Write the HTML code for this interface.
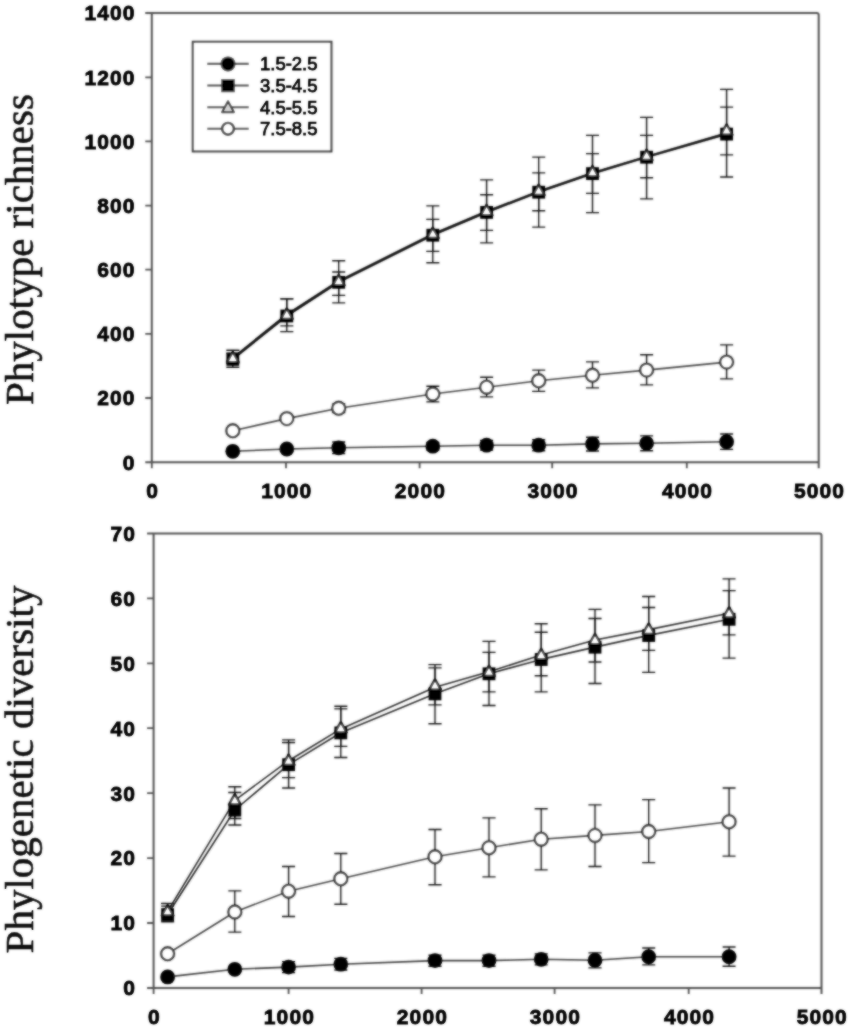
<!DOCTYPE html>
<html><head><meta charset="utf-8"><title>Rarefaction curves</title>
<style>html,body{margin:0;padding:0;background:#fff}svg{display:block}.ax{font-family:"Liberation Sans",sans-serif;font-weight:bold;font-size:21px;fill:#000;stroke:#000;stroke-width:0.8px;letter-spacing:1.1px}.lg{font-family:"Liberation Sans",sans-serif;font-size:17.5px;fill:#000;stroke:#000;stroke-width:0.75px}.yt{font-family:"Liberation Serif",serif;font-size:41px;fill:#0c0c0c;stroke:#0c0c0c;stroke-width:0.55px}</style></head><body>
<svg width="850" height="1034" viewBox="0 0 850 1034">
<defs><filter id="b" x="-5%" y="-5%" width="110%" height="110%"><feGaussianBlur in="SourceGraphic" stdDeviation="0.85" result="g"/><feComposite in="SourceGraphic" in2="g" operator="arithmetic" k1="0" k2="0.3" k3="0.7" k4="0"/></filter><filter id="bt" x="-5%" y="-5%" width="110%" height="110%"><feGaussianBlur in="SourceGraphic" stdDeviation="0.85" result="g"/><feComposite in="SourceGraphic" in2="g" operator="arithmetic" k1="0" k2="0.45" k3="0.55" k4="0"/></filter></defs>
<rect width="850" height="1034" fill="#fff"/>
<g filter="url(#b)">
<path d="M145.3 13.1H816.7Q818.7 13.1 818.7 15.1V468.2" fill="none" stroke="#505050" stroke-width="2"/>
<path d="M151.8 13.1V462.2M145.3 462.2H818.7" fill="none" stroke="#505050" stroke-width="2"/>
<path d="M145.3 398H151.8M145.3 333.9H151.8M145.3 269.7H151.8M145.3 205.6H151.8M145.3 141.4H151.8M145.3 77.3H151.8M151.8 462.2V468.2M286 462.2V468.2M419.6 462.2V468.2M552.2 462.2V468.2M686.8 462.2V468.2" fill="none" stroke="#505050" stroke-width="1.8"/>
<path d="M232.8 451.3 L286.8 449 L338.7 447.8 L432.8 446.2 L486.6 445.2 L538.7 445.2 L592.5 443.9 L646.6 443.3 L726.6 441.7" fill="none" stroke="#3a3a3a" stroke-width="1.6" stroke-linejoin="round"/>
<path d="M232.8 430.8 L286.8 418.6 L338.7 408.3 L432.8 394 L486.6 387.2 L538.7 380.8 L592.5 375.3 L646.6 370.1 L726.6 362.1" fill="none" stroke="#444" stroke-width="1.6" stroke-linejoin="round"/>
<path d="M232.8 359.2 L286.8 315.9 L338.7 282.2 L432.8 235.1 L486.6 212.3 L538.7 192.1 L592.5 173.5 L646.6 157.1 L726.6 134" fill="none" stroke="#0a0a0a" stroke-width="1.9" stroke-linejoin="round"/>
<path d="M232.8 357.9 L286.8 314.6 L338.7 281 L432.8 234.1 L486.6 211.5 L538.7 191.5 L592.5 173 L646.6 156.7 L726.6 133.1" fill="none" stroke="#0a0a0a" stroke-width="1.9" stroke-linejoin="round"/>
<path d="M338.7 442V453.5M332.2 442H345.2M332.2 453.5H345.2M432.8 442.3V450M426.3 442.3H439.3M426.3 450H439.3M486.6 440.4V450M480.1 440.4H493.1M480.1 450H493.1M538.7 439.7V450.7M532.2 439.7H545.2M532.2 450.7H545.2M592.5 437.2V451M586 437.2H599M586 451H599M646.6 435.9V450.7M640.1 435.9H653.1M640.1 450.7H653.1M726.6 434V449.4M720.1 434H733.1M720.1 449.4H733.1" fill="none" stroke="#141414" stroke-width="1.35"/>
<path d="M338.7 403.8V412.5M332.2 403.8H345.2M332.2 412.5H345.2M432.8 386.2V401.9M426.3 386.2H439.3M426.3 401.9H439.3M486.6 377.2V396.8M480.1 377.2H493.1M480.1 396.8H493.1M538.7 370.1V391.3M532.2 370.1H545.2M532.2 391.3H545.2M592.5 361.8V387.8M586 361.8H599M586 387.8H599M646.6 354.7V384.9M640.1 354.7H653.1M640.1 384.9H653.1M726.6 344.8V378.8M720.1 344.8H733.1M720.1 378.8H733.1" fill="none" stroke="#141414" stroke-width="1.35"/>
<path d="M232.8 350.2V367.2M226.3 350.2H239.3M226.3 367.2H239.3M286.8 298.9V331.6M280.3 298.9H293.3M280.3 331.6H293.3M338.7 260.7V302.8M332.2 260.7H345.2M332.2 302.8H345.2M432.8 205.9V262.7M426.3 205.9H439.3M426.3 262.7H439.3M486.6 179.9V242.8M480.1 179.9H493.1M480.1 242.8H493.1M538.7 157.1V227.1M532.2 157.1H545.2M532.2 227.1H545.2M592.5 135.3V212.6M586 135.3H599M586 212.6H599M646.6 117.4V198.8M640.1 117.4H653.1M640.1 198.8H653.1M726.6 89.4V177M720.1 89.4H733.1M720.1 177H733.1" fill="none" stroke="#141414" stroke-width="1.35"/>
<path d="M232.8 353.1V363.4M226.3 353.1H239.3M226.3 363.4H239.3M286.8 298.9V325.9M280.3 298.9H293.3M280.3 325.9H293.3M338.7 272V295.4M332.2 272H345.2M332.2 295.4H345.2M432.8 219.4V251.4M426.3 219.4H439.3M426.3 251.4H439.3M486.6 194.7V230.3M480.1 194.7H493.1M480.1 230.3H493.1M538.7 172.9V210.7M532.2 172.9H545.2M532.2 210.7H545.2M592.5 153.6V193.4M586 153.6H599M586 193.4H599M646.6 135.3V177.7M640.1 135.3H653.1M640.1 177.7H653.1M726.6 107.1V154.9M720.1 107.1H733.1M720.1 154.9H733.1" fill="none" stroke="#141414" stroke-width="1.35"/>
<circle cx="232.8" cy="451.3" r="7.4" fill="#000"/>
<circle cx="286.8" cy="449" r="7.4" fill="#000"/>
<circle cx="338.7" cy="447.8" r="7.4" fill="#000"/>
<circle cx="432.8" cy="446.2" r="7.4" fill="#000"/>
<circle cx="486.6" cy="445.2" r="7.4" fill="#000"/>
<circle cx="538.7" cy="445.2" r="7.4" fill="#000"/>
<circle cx="592.5" cy="443.9" r="7.4" fill="#000"/>
<circle cx="646.6" cy="443.3" r="7.4" fill="#000"/>
<circle cx="726.6" cy="441.7" r="7.4" fill="#000"/>
<circle cx="232.8" cy="430.8" r="6.4" fill="#fff" stroke="#111" stroke-width="2.1"/>
<circle cx="286.8" cy="418.6" r="6.4" fill="#fff" stroke="#111" stroke-width="2.1"/>
<circle cx="338.7" cy="408.3" r="6.4" fill="#fff" stroke="#111" stroke-width="2.1"/>
<circle cx="432.8" cy="394" r="6.4" fill="#fff" stroke="#111" stroke-width="2.1"/>
<circle cx="486.6" cy="387.2" r="6.4" fill="#fff" stroke="#111" stroke-width="2.1"/>
<circle cx="538.7" cy="380.8" r="6.4" fill="#fff" stroke="#111" stroke-width="2.1"/>
<circle cx="592.5" cy="375.3" r="6.4" fill="#fff" stroke="#111" stroke-width="2.1"/>
<circle cx="646.6" cy="370.1" r="6.4" fill="#fff" stroke="#111" stroke-width="2.1"/>
<circle cx="726.6" cy="362.1" r="6.4" fill="#fff" stroke="#111" stroke-width="2.1"/>
<rect x="226.4" y="352.9" width="12.8" height="12.8" fill="#000"/>
<rect x="280.4" y="309.6" width="12.8" height="12.8" fill="#000"/>
<rect x="332.3" y="275.9" width="12.8" height="12.8" fill="#000"/>
<rect x="426.4" y="228.8" width="12.8" height="12.8" fill="#000"/>
<rect x="480.2" y="206" width="12.8" height="12.8" fill="#000"/>
<rect x="532.3" y="185.8" width="12.8" height="12.8" fill="#000"/>
<rect x="586.1" y="167.2" width="12.8" height="12.8" fill="#000"/>
<rect x="640.2" y="150.8" width="12.8" height="12.8" fill="#000"/>
<rect x="720.2" y="127.7" width="12.8" height="12.8" fill="#000"/>
<path d="M232.8 351.7L238.6 362.1H227Z" fill="#fff" stroke="#0a0a0a" stroke-width="2.3" stroke-linejoin="round"/>
<path d="M286.8 308.4L292.6 318.8H281Z" fill="#fff" stroke="#0a0a0a" stroke-width="2.3" stroke-linejoin="round"/>
<path d="M338.7 274.8L344.5 285.2H332.9Z" fill="#fff" stroke="#0a0a0a" stroke-width="2.3" stroke-linejoin="round"/>
<path d="M432.8 227.6L438.6 238H427Z" fill="#fff" stroke="#0a0a0a" stroke-width="2.3" stroke-linejoin="round"/>
<path d="M486.6 204.8L492.4 215.2H480.8Z" fill="#fff" stroke="#0a0a0a" stroke-width="2.3" stroke-linejoin="round"/>
<path d="M538.7 184.6L544.5 195H532.9Z" fill="#fff" stroke="#0a0a0a" stroke-width="2.3" stroke-linejoin="round"/>
<path d="M592.5 166L598.3 176.4H586.7Z" fill="#fff" stroke="#0a0a0a" stroke-width="2.3" stroke-linejoin="round"/>
<path d="M646.6 149.6L652.4 160H640.8Z" fill="#fff" stroke="#0a0a0a" stroke-width="2.3" stroke-linejoin="round"/>
<path d="M726.6 124.3L732.4 134.7H720.8Z" fill="#fff" stroke="#0a0a0a" stroke-width="2.3" stroke-linejoin="round"/>
<rect x="192.8" y="41.8" width="138.6" height="109.6" fill="#fff" stroke="#3c3c3c" stroke-width="2.1"/>
<path d="M207.3 63.9H248.7" stroke="#333" stroke-width="2.1"/>
<circle cx="228" cy="63.9" r="7.5" fill="#000"/>
<path d="M207.3 85.5H248.7" stroke="#333" stroke-width="2.1"/>
<rect x="221.2" y="79" width="13.6" height="13.2" fill="#000"/>
<path d="M207.3 107.2H248.7" stroke="#333" stroke-width="2.1"/>
<path d="M228 101.2L234 112.2H222Z" fill="#d4d4d4" stroke="#1c1c1c" stroke-width="2" stroke-linejoin="round"/>
<path d="M207.3 128.8H248.7" stroke="#333" stroke-width="2.1"/>
<circle cx="228" cy="128.8" r="5.9" fill="#fff" stroke="#1c1c1c" stroke-width="2.4"/>
<path d="M147.1 533.5H819.5Q821.5 533.5 821.5 535.5V993.9" fill="none" stroke="#505050" stroke-width="2"/>
<path d="M153.6 533.5V987.9M147.1 987.9H821.5" fill="none" stroke="#505050" stroke-width="2"/>
<path d="M147.1 923H153.6M147.1 858.1H153.6M147.1 793.2H153.6M147.1 728.2H153.6M147.1 663.3H153.6M147.1 598.4H153.6M153.6 987.9V993.9M288.6 987.9V993.9M421.6 987.9V993.9M554.6 987.9V993.9M688.7 987.9V993.9" fill="none" stroke="#505050" stroke-width="1.8"/>
<path d="M167.6 976.9 L234.8 969.3 L288.6 967.1 L340.8 964.2 L435 960.6 L489 960.6 L541.2 959.3 L595 960.2 L648.7 956.7 L729.1 956.7" fill="none" stroke="#3a3a3a" stroke-width="1.6" stroke-linejoin="round"/>
<path d="M167.6 953.8 L234.8 912 L288.6 891.2 L340.8 878.8 L435 856.8 L489 847.7 L541.2 839.2 L595 835.4 L648.7 831.5 L729.1 821.7" fill="none" stroke="#444" stroke-width="1.6" stroke-linejoin="round"/>
<path d="M167.6 914.5 L234.8 810 L288.6 764.6 L340.8 732.8 L435 693.8 L489 673.7 L541.2 659.4 L595 647.1 L648.7 635.4 L729.1 619.2" fill="none" stroke="#2a2a2a" stroke-width="1.6" stroke-linejoin="round"/>
<path d="M167.6 911.3 L234.8 800.3 L288.6 760.7 L340.8 728.9 L435 687.3 L489 671.8 L541.2 654.9 L595 640 L648.7 629.6 L729.1 613.3" fill="none" stroke="#2a2a2a" stroke-width="1.6" stroke-linejoin="round"/>
<path d="M288.6 961.6V972.6M282.1 961.6H295.1M282.1 972.6H295.1M340.8 958.4V970M334.3 958.4H347.3M334.3 970H347.3M435 955.1V966.2M428.5 955.1H441.5M428.5 966.2H441.5M489 955.1V966.2M482.5 955.1H495.5M482.5 966.2H495.5M541.2 953.8V964.9M534.7 953.8H547.7M534.7 964.9H547.7M595 952.8V967.8M588.5 952.8H601.5M588.5 967.8H601.5M648.7 948V964.9M642.2 948H655.2M642.2 964.9H655.2M729.1 947V966.2M722.6 947H735.6M722.6 966.2H735.6" fill="none" stroke="#141414" stroke-width="1.35"/>
<path d="M234.8 890.8V932.1M228.3 890.8H241.3M228.3 932.1H241.3M288.6 866.5V916.5M282.1 866.5H295.1M282.1 916.5H295.1M340.8 853.5V904.2M334.3 853.5H347.3M334.3 904.2H347.3M435 829.5V884.7M428.5 829.5H441.5M428.5 884.7H441.5M489 817.8V876.9M482.5 817.8H495.5M482.5 876.9H495.5M541.2 808.7V869.8M534.7 808.7H547.7M534.7 869.8H547.7M595 804.8V866.5M588.5 804.8H601.5M588.5 866.5H601.5M648.7 799.6V862.6M642.2 799.6H655.2M642.2 862.6H655.2M729.1 788V856.1M722.6 788H735.6M722.6 856.1H735.6" fill="none" stroke="#141414" stroke-width="1.35"/>
<path d="M167.6 906.1V921.7M161.1 906.1H174.1M161.1 921.7H174.1M234.8 786.7V825M228.3 786.7H241.3M228.3 825H241.3M288.6 739.9V788M282.1 739.9H295.1M282.1 788H295.1M340.8 706.2V757.5M334.3 706.2H347.3M334.3 757.5H347.3M435 664.6V723.7M428.5 664.6H441.5M428.5 723.7H441.5M489 641.3V705.5M482.5 641.3H495.5M482.5 705.5H495.5M541.2 623.7V691.9M534.7 623.7H547.7M534.7 691.9H547.7M595 609.4V683.5M588.5 609.4H601.5M588.5 683.5H601.5M648.7 596.5V672.4M642.2 596.5H655.2M642.2 672.4H655.2M729.1 578.9V658.1M722.6 578.9H735.6M722.6 658.1H735.6" fill="none" stroke="#141414" stroke-width="1.35"/>
<path d="M167.6 903.5V917.8M161.1 903.5H174.1M161.1 917.8H174.1M234.8 792.5V818.5M228.3 792.5H241.3M228.3 818.5H241.3M288.6 742.5V777.6M282.1 742.5H295.1M282.1 777.6H295.1M340.8 708.8V746.4M334.3 708.8H347.3M334.3 746.4H347.3M435 667.9V704.9M428.5 667.9H441.5M428.5 704.9H441.5M489 652.3V691.9M482.5 652.3H495.5M482.5 691.9H495.5M541.2 632.2V675.7M534.7 632.2H547.7M534.7 675.7H547.7M595 618.5V662M588.5 618.5H601.5M588.5 662H601.5M648.7 607.5V650.3M642.2 607.5H655.2M642.2 650.3H655.2M729.1 590.6V634.8M722.6 590.6H735.6M722.6 634.8H735.6" fill="none" stroke="#141414" stroke-width="1.35"/>
<circle cx="167.6" cy="976.9" r="7.4" fill="#000"/>
<circle cx="234.8" cy="969.3" r="7.4" fill="#000"/>
<circle cx="288.6" cy="967.1" r="7.4" fill="#000"/>
<circle cx="340.8" cy="964.2" r="7.4" fill="#000"/>
<circle cx="435" cy="960.6" r="7.4" fill="#000"/>
<circle cx="489" cy="960.6" r="7.4" fill="#000"/>
<circle cx="541.2" cy="959.3" r="7.4" fill="#000"/>
<circle cx="595" cy="960.2" r="7.4" fill="#000"/>
<circle cx="648.7" cy="956.7" r="7.4" fill="#000"/>
<circle cx="729.1" cy="956.7" r="7.4" fill="#000"/>
<circle cx="167.6" cy="953.8" r="6.4" fill="#fff" stroke="#111" stroke-width="2.1"/>
<circle cx="234.8" cy="912" r="6.4" fill="#fff" stroke="#111" stroke-width="2.1"/>
<circle cx="288.6" cy="891.2" r="6.4" fill="#fff" stroke="#111" stroke-width="2.1"/>
<circle cx="340.8" cy="878.8" r="6.4" fill="#fff" stroke="#111" stroke-width="2.1"/>
<circle cx="435" cy="856.8" r="6.4" fill="#fff" stroke="#111" stroke-width="2.1"/>
<circle cx="489" cy="847.7" r="6.4" fill="#fff" stroke="#111" stroke-width="2.1"/>
<circle cx="541.2" cy="839.2" r="6.4" fill="#fff" stroke="#111" stroke-width="2.1"/>
<circle cx="595" cy="835.4" r="6.4" fill="#fff" stroke="#111" stroke-width="2.1"/>
<circle cx="648.7" cy="831.5" r="6.4" fill="#fff" stroke="#111" stroke-width="2.1"/>
<circle cx="729.1" cy="821.7" r="6.4" fill="#fff" stroke="#111" stroke-width="2.1"/>
<rect x="161.2" y="908.2" width="12.8" height="12.8" fill="#000"/>
<rect x="228.4" y="803.7" width="12.8" height="12.8" fill="#000"/>
<rect x="282.2" y="758.3" width="12.8" height="12.8" fill="#000"/>
<rect x="334.4" y="726.5" width="12.8" height="12.8" fill="#000"/>
<rect x="428.6" y="687.5" width="12.8" height="12.8" fill="#000"/>
<rect x="482.6" y="667.4" width="12.8" height="12.8" fill="#000"/>
<rect x="534.8" y="653.1" width="12.8" height="12.8" fill="#000"/>
<rect x="588.6" y="640.8" width="12.8" height="12.8" fill="#000"/>
<rect x="642.3" y="629.1" width="12.8" height="12.8" fill="#000"/>
<rect x="722.7" y="612.9" width="12.8" height="12.8" fill="#000"/>
<path d="M167.6 905.1L173.4 915.5H161.8Z" fill="#fff" stroke="#0a0a0a" stroke-width="2.3" stroke-linejoin="round"/>
<path d="M234.8 794.1L240.6 804.5H229Z" fill="#fff" stroke="#0a0a0a" stroke-width="2.3" stroke-linejoin="round"/>
<path d="M288.6 754.5L294.4 764.9H282.8Z" fill="#fff" stroke="#0a0a0a" stroke-width="2.3" stroke-linejoin="round"/>
<path d="M340.8 722L346.6 732.4H335Z" fill="#fff" stroke="#0a0a0a" stroke-width="2.3" stroke-linejoin="round"/>
<path d="M435 679.2L440.8 689.6H429.2Z" fill="#fff" stroke="#0a0a0a" stroke-width="2.3" stroke-linejoin="round"/>
<path d="M489 665.6L494.8 676H483.2Z" fill="#fff" stroke="#0a0a0a" stroke-width="2.3" stroke-linejoin="round"/>
<path d="M541.2 648.7L547 659.1H535.4Z" fill="#fff" stroke="#0a0a0a" stroke-width="2.3" stroke-linejoin="round"/>
<path d="M595 633.8L600.8 644.2H589.2Z" fill="#fff" stroke="#0a0a0a" stroke-width="2.3" stroke-linejoin="round"/>
<path d="M648.7 623.4L654.5 633.8H642.9Z" fill="#fff" stroke="#0a0a0a" stroke-width="2.3" stroke-linejoin="round"/>
<path d="M729.1 607.1L734.9 617.5H723.3Z" fill="#fff" stroke="#0a0a0a" stroke-width="2.3" stroke-linejoin="round"/>
</g>
<g filter="url(#bt)">
<text class="ax" x="135.5" y="469.5" text-anchor="end">0</text>
<text class="ax" x="135.5" y="405.3" text-anchor="end">200</text>
<text class="ax" x="135.5" y="341.2" text-anchor="end">400</text>
<text class="ax" x="135.5" y="277" text-anchor="end">600</text>
<text class="ax" x="135.5" y="212.9" text-anchor="end">800</text>
<text class="ax" x="135.5" y="148.7" text-anchor="end">1000</text>
<text class="ax" x="135.5" y="84.6" text-anchor="end">1200</text>
<text class="ax" x="135.5" y="20.4" text-anchor="end">1400</text>
<text class="ax" x="152.6" y="497.7" text-anchor="middle">0</text>
<text class="ax" x="286.8" y="497.7" text-anchor="middle">1000</text>
<text class="ax" x="420.4" y="497.7" text-anchor="middle">2000</text>
<text class="ax" x="553" y="497.7" text-anchor="middle">3000</text>
<text class="ax" x="687.6" y="497.7" text-anchor="middle">4000</text>
<text class="ax" x="819.5" y="497.7" text-anchor="middle">5000</text>
<text class="yt" transform="translate(33 249.5) rotate(-90)" text-anchor="middle">Phylotype richness</text>
<text class="lg" x="260" y="70.2" textLength="57.5" lengthAdjust="spacingAndGlyphs">1.5-2.5</text>
<text class="lg" x="260" y="91.8" textLength="57.5" lengthAdjust="spacingAndGlyphs">3.5-4.5</text>
<text class="lg" x="260" y="113.5" textLength="57.5" lengthAdjust="spacingAndGlyphs">4.5-5.5</text>
<text class="lg" x="260" y="135.2" textLength="57.5" lengthAdjust="spacingAndGlyphs">7.5-8.5</text>
<text class="ax" x="136" y="995.2" text-anchor="end">0</text>
<text class="ax" x="136" y="930.3" text-anchor="end">10</text>
<text class="ax" x="136" y="865.4" text-anchor="end">20</text>
<text class="ax" x="136" y="800.5" text-anchor="end">30</text>
<text class="ax" x="136" y="735.5" text-anchor="end">40</text>
<text class="ax" x="136" y="670.6" text-anchor="end">50</text>
<text class="ax" x="136" y="605.7" text-anchor="end">60</text>
<text class="ax" x="136" y="540.8" text-anchor="end">70</text>
<text class="ax" x="154.4" y="1024.4" text-anchor="middle">0</text>
<text class="ax" x="289.4" y="1024.4" text-anchor="middle">1000</text>
<text class="ax" x="422.4" y="1024.4" text-anchor="middle">2000</text>
<text class="ax" x="555.4" y="1024.4" text-anchor="middle">3000</text>
<text class="ax" x="689.5" y="1024.4" text-anchor="middle">4000</text>
<text class="ax" x="822.3" y="1024.4" text-anchor="middle">5000</text>
<text class="yt" transform="translate(33 769.5) rotate(-90)" text-anchor="middle">Phylogenetic diversity</text>
</g></svg></body></html>
